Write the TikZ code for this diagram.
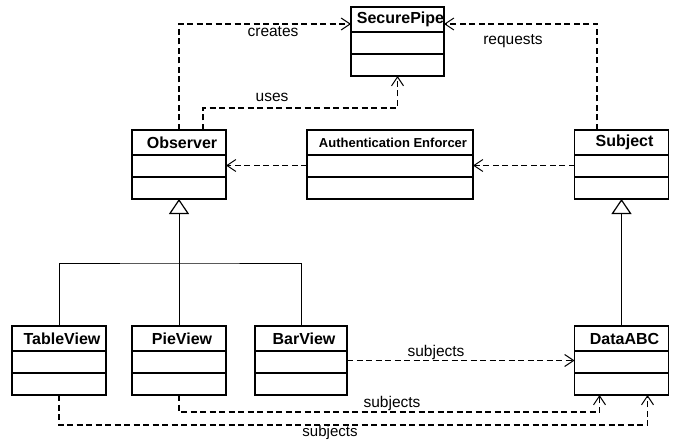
\documentclass[tikz,border=0pt]{standalone}
\usepackage{fontspec}
\setmainfont{Liberation Sans}
\usetikzlibrary{arrows.meta,calc}

\tikzset{
  classbox/.style={draw, line width=1.3pt, minimum height=69pt, inner sep=0pt, outer sep=0pt},
  divider/.style={line width=1.3pt},
  classname/.style={font=\fontsize{16}{18}\selectfont\bfseries},
  smallname/.style={font=\fontsize{13}{15}\selectfont\bfseries},
  dep/.style={line width=1.3pt, dash pattern=on 6pt off 3.5pt,
              -{Straight Barb[length=9pt,width=12pt,line width=1pt]}},
  inherit/.style={line width=0.9pt},
  generalize/.style={inherit, -{Triangle[open,length=15pt,width=20pt,line width=1.2pt,fill=white]}},
  lbl/.style={font=\fontsize{15.5}{17}\selectfont, inner sep=1pt}
}

% a three-compartment class box: name, centre x, top y, width, name style, title
\newcommand\umlclass[6]{%
  \node[classbox, minimum width=#4pt] (#1) at (#2,#3+34.5) {};
  \draw[divider] ([yshift=-25pt]#1.north west) -- ([yshift=-25pt]#1.north east);
  \draw[divider] ([yshift=-47pt]#1.north west) -- ([yshift=-47pt]#1.north east);
  \node[#5, anchor=center] (#1-title) at ([yshift=-12.5pt,xshift=3pt]#1.north) {#6};
}

\begin{document}
\begin{tikzpicture}[x=1pt,y=-1pt]
  \useasboundingbox (0,0) rectangle (674,441);

  % classes
  \umlclass{sp}{397.5}{7}{93}{classname}{SecurePipe}
  \umlclass{obs}{179}{130}{94}{classname}{Observer}
  \umlclass{auth}{390}{130}{166}{smallname}{Authentication Enforcer}
  \umlclass{subj}{621.5}{130}{94}{classname}{Subject}
  \umlclass{tv}{59}{326}{94}{classname}{TableView}
  \umlclass{pv}{179}{326}{94}{classname}{PieView}
  \umlclass{bv}{301}{326}{92}{classname}{BarView}
  \umlclass{da}{621.5}{326}{94}{classname}{DataABC}

  % dependencies towards SecurePipe
  \draw[dep] (obs.north) |- ([yshift=-17pt]sp.north west);
  \node[lbl] (creates) at (273,32) {creates};
  \draw[dep] ([xshift=-24.5pt]subj.north) |- ([yshift=-17pt]sp.north east);
  \node[lbl] (requests) at (513,41) {requests};
  \draw[dep] ([xshift=24pt]obs.north) -- ++(0,-22) -| (sp.south);
  \node[lbl] (uses) at (272,97) {uses};

  % dependencies through the enforcer
  \draw[dep] ([yshift=-1pt]auth.west) -- ([yshift=-1pt]obs.east);
  \draw[dep] ([yshift=-1pt]subj.west) -- ([yshift=-1pt]auth.east);

  % generalization
  \coordinate (join) at (179,263);
  \draw[inherit] (tv.north) |- (join) -| (bv.north);
  \draw[generalize] (pv.north) -- (obs.south);
  \draw[generalize] (da.north) -- (subj.south);

  % views depending on the data
  \draw[dep] (bv.east) -- (da.west);
  \node[lbl, anchor=south] (s1) at (436,361) {subjects};
  \draw[dep] (pv.south) -- ++(0,17) -| ([xshift=-22pt]da.south);
  \node[lbl, anchor=south] (s2) at (392,412) {subjects};
  \draw[dep] (tv.south) -- ++(0,30) -| ([xshift=26pt]da.south);
  \node[lbl, font=\fontsize{15}{16}\selectfont] (s3) at (330,432.5) {subjects};
\end{tikzpicture}
\end{document}
